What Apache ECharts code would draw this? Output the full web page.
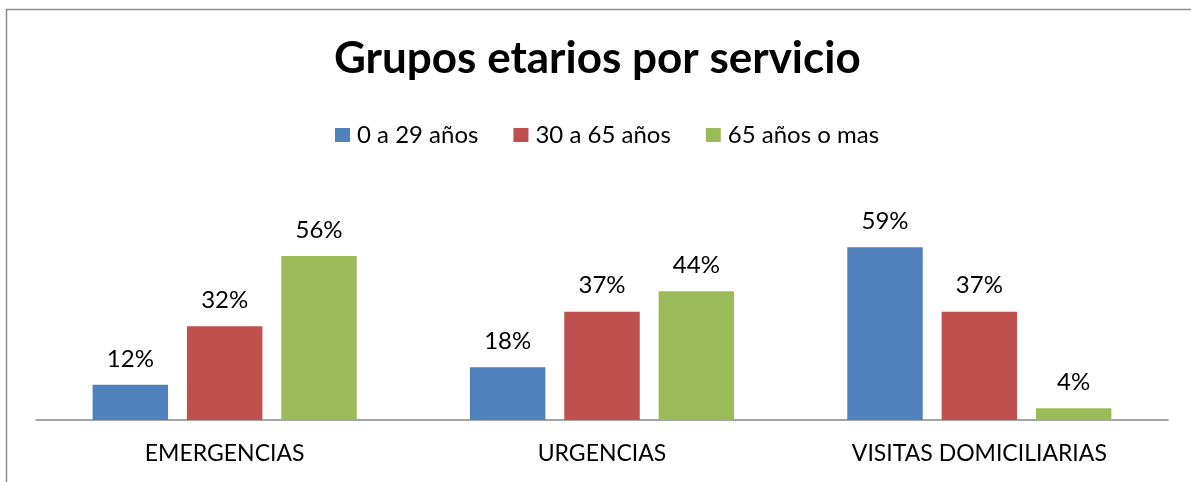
<!DOCTYPE html>
<html>
<head>
<meta charset="utf-8">
<script src="https://cdn.jsdelivr.net/npm/echarts@6/dist/echarts.min.js"></script>
<style>
  html, body { margin: 0; padding: 0; background: #fff; }
  #chart { width: 1191px; height: 482px; }
</style>
</head>
<body>
<div id="chart"></div>
<script>
const categories = ['EMERGENCIAS', 'URGENCIAS', 'VISITAS DOMICILIARIAS']
const seriesNames = ['0 a 29 años', '30 a 65 años', '65 años o mas']
const young = [0.12, 0.18, 0.59]
const adult = [0.32, 0.37, 0.37]
const senior = [0.56, 0.44, 0.04]
const colors = ['#4F81BD', '#C0504D', '#9BBB59']

const font = 'Lato, "Open Sans", sans-serif'

const myChart = echarts.init(document.getElementById('chart'))

const makeSeries = (name, data, color) => ({
  name,
  type: 'bar',
  data,
  barGap: '25%',
  barCategoryGap: '30%',
  itemStyle: { color },
  label: {
    show: true,
    position: 'top',
    distance: 14,
    color: '#000',
    fontFamily: font,
    fontSize: 24,
    formatter: p => Math.round(p.value * 100) + '%'
  }
})

myChart.setOption({
  animation: false,
  title: {
    text: 'Grupos etarios por servicio',
    left: 329,
    top: 32,
    textStyle: {
      fontFamily: font,
      fontSize: 44,
      fontWeight: 'bold',
      color: '#000'
    }
  },
  legend: {
    data: seriesNames,
    top: 118,
    left: 330,
    itemWidth: 15,
    itemHeight: 14,
    itemGap: 35,
    icon: 'rect',
    textStyle: {
      fontFamily: font,
      fontSize: 24,
      color: '#000',
      padding: [0, 0, 0, 2]
    }
  },
  grid: {
    left: 36,
    right: 23,
    top: 215,
    bottom: 62
  },
  xAxis: {
    type: 'category',
    data: categories,
    axisLine: { lineStyle: { color: '#868686', width: 1.5 } },
    axisTick: { show: false },
    axisLabel: {
      margin: 22,
      color: '#000',
      fontFamily: font,
      fontSize: 23
    }
  },
  yAxis: {
    type: 'value',
    min: 0,
    max: 0.7,
    show: false,
    splitLine: { show: false }
  },
  graphic: [
    {
      type: 'rect',
      shape: { x: 6.5, y: 9.5, width: 1300, height: 600 },
      style: { fill: 'none', stroke: '#8c8c8c', lineWidth: 1.5 },
      silent: true
    }
  ],
  series: [
    makeSeries(seriesNames[0], young, colors[0]),
    makeSeries(seriesNames[1], adult, colors[1]),
    makeSeries(seriesNames[2], senior, colors[2])
  ]
})
</script>
</body>
</html>
